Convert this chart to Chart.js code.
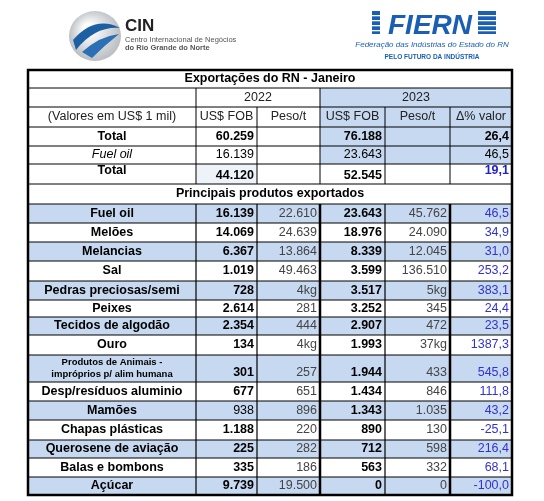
<!DOCTYPE html>
<html><head><meta charset="utf-8">
<script src="https://cdn.jsdelivr.net/npm/chart.js@4/dist/chart.umd.min.js"></script>
<style>html,body{margin:0;padding:0;background:#fff}#w{width:544px;height:501px}</style>
</head><body><div id="w"><canvas id="c"></canvas></div>
<script>
const title = "Exportações do RN - Janeiro";
const years = ["2022", "2023"];
const headers = ["(Valores em US$ 1 mil)", "US$ FOB", "Peso/t", "US$ FOB", "Peso/t", "Δ% valor"];
const summaryLabels = ["Total", "Fuel oil", "Total"];
const summaryFob2022 = ["60.259", "16.139", "44.120"];
const summaryFob2023 = ["76.188", "23.643", "52.545"];
const summaryDelta = ["26,4", "46,5", "19,1"];
const subtitle = "Principais produtos exportados";
const products = ["Fuel oil","Melões","Melancias","Sal","Pedras preciosas/semi","Peixes","Tecidos de algodão","Ouro","Produtos de Animais -|impróprios p/ alim humana","Desp/resíduos aluminio","Mamões","Chapas plásticas","Querosene de aviação","Balas e bombons","Açúcar"];
const fob2022 = ["16.139","14.069","6.367","1.019","728","2.614","2.354","134","301","677","938","1.188","225","335","9.739"];
const peso2022 = ["22.610","24.639","13.864","49.463","4kg","281","444","4kg","257","651","896","220","282","186","19.500"];
const fob2023 = ["23.643","18.976","8.339","3.599","3.517","3.252","2.907","1.993","1.944","1.434","1.343","890","712","563","0"];
const peso2023 = ["45.762","24.090","12.045","136.510","5kg","345","472","37kg","433","846","1.035","130","598","332","0"];
const delta = ["46,5","34,9","31,0","253,2","383,1","24,4","23,5","1387,3","545,8","111,8","43,2","-25,1","216,4","68,1","-100,0"];

// layout (table units)
const colEdges = [0,168,229,292,357,422,484];
const rowH = [18,19,20,19,18,20,20,19,19,19,20,19,17,18,20,27,19,19,20,18,19,18];
const rowEdges = [0]; rowH.forEach(h=>rowEdges.push(rowEdges[rowEdges.length-1]+h));
const BLUE = '#c6d9f0', F = '"Liberation Sans", Arial, sans-serif';

const tablePlugin = {
  id:'table',
  afterDraw(chart){
    const ctx = chart.ctx, xs = chart.scales.x, ys = chart.scales.y;
    const X = i => xs.getPixelForValue(colEdges[i]);
    const Y = r => ys.getPixelForValue(rowEdges[r]);
    const fill = (c0,c1,r,col)=>{ctx.fillStyle=col;ctx.fillRect(X(c0),Y(r),X(c1)-X(c0),Y(r+1)-Y(r));};
    const text = (s,c0,c1,r,o={})=>{
      ctx.font=(o.it?'italic ':'')+(o.b?'bold ':'')+(o.sz||12.5)+'px '+F;
      ctx.fillStyle=o.col||'#000'; ctx.textBaseline='middle';
      const y=(Y(r)+Y(r+1))/2+(o.dy||0);
      if(o.right){ctx.textAlign='right';ctx.fillText(s,X(c1)-3,y);}
      else{ctx.textAlign='center';ctx.fillText(s,(X(c0)+X(c1))/2,y);}
    };
    const hl=(x0,x1,y,w)=>{ctx.lineWidth=w;ctx.beginPath();ctx.moveTo(x0,y);ctx.lineTo(x1,y);ctx.stroke();};
    const vl=(x,y0,y1,w)=>{ctx.lineWidth=w;ctx.beginPath();ctx.moveTo(x,y0);ctx.lineTo(x,y1);ctx.stroke();};
    ctx.save();
    for(let r=1;r<=4;r++) fill(3,6,r,BLUE);
    fill(1,2,5,'#eef3fa');
    products.forEach((p,i)=>{ if(i%2===0) fill(0,6,7+i,BLUE); });
    ctx.strokeStyle='#000';
    const L=X(0),R=X(6);
    for(let r=1;r<=6;r++) hl(L,R,Y(r),1);
    for(let r=7;r<rowEdges.length-1;r++) hl(L,R,Y(r),1);
    vl(X(1),Y(1),Y(6),1); vl(X(3),Y(1),Y(6),1);
    [2,4,5].forEach(c=>vl(X(c),Y(2),Y(6),1));
    [1,2,4].forEach(c=>vl(X(c),Y(7),Y(22),1.2));
    [3,5].forEach(c=>vl(X(c),Y(7),Y(22),2.5));
    ctx.lineWidth=2.5; ctx.strokeRect(L,Y(0),R-L,Y(22)-Y(0));
    text(title,0,6,0,{b:true});
    text(years[0],1,3,1,{col:'#222'}); text(years[1],3,6,1,{col:'#222'});
    headers.forEach((h,i)=>text(h,i,i+1,2,{col:'#222'}));
    summaryLabels.forEach((s,i)=>{
      const r=3+i, it=i===1, b=!it;
      text(s,0,1,r,{b,it,dy:i===2?-3:0});
      text(summaryFob2022[i],1,2,r,{b,right:true,dy:i===2?2:0});
      text(summaryFob2023[i],3,4,r,{b,right:true,dy:i===2?2:0});
      text(summaryDelta[i],5,6,r,{b,right:true,col:i===2?'#2222cc':'#000',dy:i===2?-3:0});
    });
    text(subtitle,0,6,6,{b:true});
    products.forEach((p,i)=>{
      const r=7+i;
      if(p.includes('|')){const [a,b]=p.split('|');text(a,0,1,r,{b:true,sz:9.5,dy:-6});text(b,0,1,r,{b:true,sz:9.5,dy:6});}
      else text(p,0,1,r,{b:true});
      const dy=p.includes('|')?4:0;
      text(fob2022[i],1,2,r,{b:i!==10,right:true,dy});
      text(peso2022[i],2,3,r,{right:true,col:'#444',dy});
      text(fob2023[i],3,4,r,{b:true,right:true,dy});
      text(peso2023[i],4,5,r,{right:true,col:'#444',dy});
      text(delta[i],5,6,r,{right:true,col:'#3333cc',dy});
    });
    // logos
    const g=ctx.createRadialGradient(88,28,4,95,35,27); g.addColorStop(0,'#fff'); g.addColorStop(1,'#b8bcc0');
    ctx.fillStyle=g; ctx.beginPath(); ctx.ellipse(95,36,26,25,0,0,Math.PI*2); ctx.fill();
    ctx.fillStyle='#1d5fa3'; ctx.beginPath(); ctx.moveTo(73,40); ctx.quadraticCurveTo(95,15,120,28); ctx.quadraticCurveTo(95,26,76,50); ctx.closePath(); ctx.fill();
    ctx.fillStyle='#2b6fb5'; ctx.beginPath(); ctx.moveTo(82,52); ctx.quadraticCurveTo(100,36,119,34); ctx.quadraticCurveTo(105,45,92,58); ctx.closePath(); ctx.fill();
    ctx.textAlign='left'; ctx.textBaseline='alphabetic'; ctx.fillStyle='#222';
    ctx.font='bold 17px '+F; ctx.fillText('CIN',125,31);
    ctx.font='7.5px '+F; ctx.fillStyle='#555'; ctx.fillText('Centro Internacional de Negócios',125,42);
    ctx.font='bold 7.5px '+F; ctx.fillText('do Rio Grande do Norte',125,50);
    ctx.fillStyle='#1a5fb4'; ctx.fillRect(372,11,8,23); ctx.fillRect(478,11,18,23);
    ctx.fillStyle='#fff'; for(let y=15;y<34;y+=5){ctx.fillRect(372,y,8,1.3);ctx.fillRect(478,y,18,1.3);}
    ctx.fillStyle='#1a5fb4'; ctx.font='italic bold 28px '+F; ctx.textAlign='center'; ctx.fillText('FIERN',430,34);
    ctx.font='italic 8px '+F; ctx.fillText('Federação das Indústrias do Estado do RN',432,47);
    ctx.font='bold 6.5px '+F; ctx.fillText('PELO FUTURO DA INDÚSTRIA',432,59);
    ctx.restore();
  }
};

new Chart(document.getElementById('c'),{
  type:'scatter',
  data:{datasets:[{data:[],pointRadius:0}]},
  options:{responsive:true,maintainAspectRatio:false,animation:false,
    layout:{padding:{left:28,right:32,top:70,bottom:6}},
    plugins:{legend:{display:false},tooltip:{enabled:false}},
    scales:{x:{type:'linear',display:false,min:0,max:colEdges[colEdges.length-1]},
            y:{type:'linear',display:false,reverse:true,min:0,max:rowEdges[rowEdges.length-1]}}},
  plugins:[tablePlugin]
});
</script></body></html>
